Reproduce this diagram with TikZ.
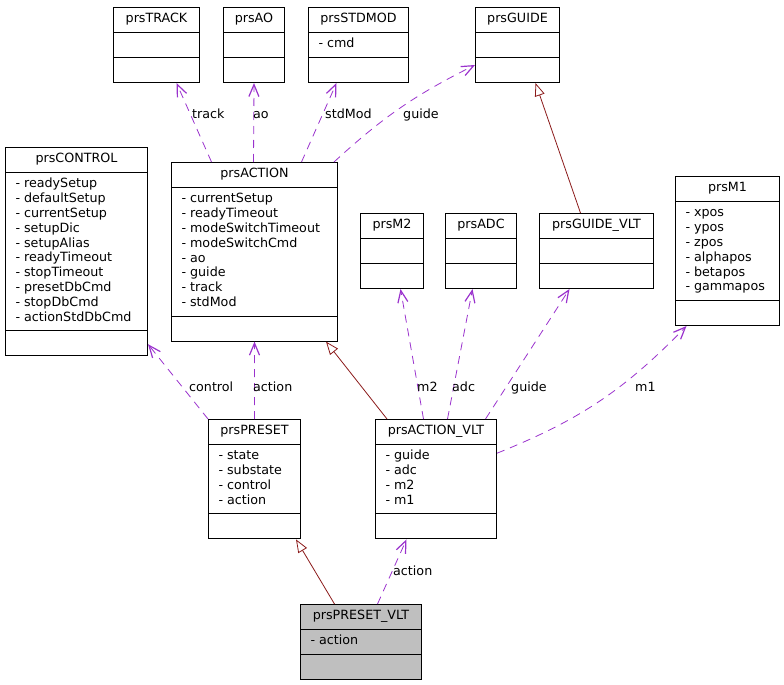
\documentclass[tikz,border=0pt]{standalone}
\usepackage{fontspec}
\setmainfont{DejaVu Sans}
\usetikzlibrary{shapes.multipart,arrows.meta}
\definecolor{useviolet}{RGB}{154,50,205}
\definecolor{isared}{RGB}{139,26,26}
\tikzset{
	cls/.style={draw, line width=1bp, anchor=north west,
		rectangle split, rectangle split parts=3,
		rectangle split part align={center,left,left},
		rectangle split empty part height=10.36bp,
		rectangle split empty part depth=4.44bp,
		align=left, inner xsep=10bp, inner ysep=4.6bp,
		font=\fontsize{12.7bp}{14.8bp}\selectfont},
	uses/.style={useviolet, line width=0.8bp, dash pattern=on 8bp off 6bp,
		-{Straight Barb[length=12bp,width=10bp,line width=1.2bp]}},
	isa/.style={isared, line width=0.8bp,
		-{Triangle[length=13bp,width=10bp,fill=white]}},
	lbl/.style={anchor=base west, inner sep=0pt,
		font=\fontsize{12.7bp}{14.8bp}\selectfont}
}
\begin{document}
\begin{tikzpicture}[x=1bp, y=-1bp]
	\useasboundingbox (0,0) rectangle (784,685);
	
	\node[cls, minimum width=86bp] (track) at (113,7) {\strut prsTRACK\nodepart{second}\strut\nodepart{third}\strut};
	\node[cls, minimum width=61bp] (ao) at (223,7) {\strut prsAO\nodepart{second}\strut\nodepart{third}\strut};
	\node[cls, minimum width=100bp] (stdmod) at (308,7) {\strut prsSTDMOD\nodepart{second}\strut - cmd\strut\nodepart{third}\strut};
	\node[cls, minimum width=84bp] (guide) at (475,7) {\strut prsGUIDE\nodepart{second}\strut\nodepart{third}\strut};
	
	\node[cls, minimum width=142bp] (control) at (5,147) {\strut prsCONTROL\nodepart{second}\strut - readySetup\\ - defaultSetup\\ - currentSetup\\ - setupDic\\ - setupAlias\\ - readyTimeout\\ - stopTimeout\\ - presetDbCmd\\ - stopDbCmd\\ - actionStdDbCmd\strut\nodepart{third}\strut};
	\node[cls, minimum width=166bp] (action) at (171,162) {\strut prsACTION\nodepart{second}\strut - currentSetup\\ - readyTimeout\\ - modeSwitchTimeout\\ - modeSwitchCmd\\ - ao\\ - guide\\ - track\\ - stdMod\strut\nodepart{third}\strut};
	\node[cls, minimum width=63bp] (m2) at (360,213) {\strut prsM2\nodepart{second}\strut\nodepart{third}\strut};
	\node[cls, minimum width=71bp] (adc) at (445,213) {\strut prsADC\nodepart{second}\strut\nodepart{third}\strut};
	\node[cls, minimum width=114bp] (guidevlt) at (539,213) {\strut prsGUIDE\_VLT\nodepart{second}\strut\nodepart{third}\strut};
	\node[cls, minimum width=104bp] (m1) at (675,176) {\strut prsM1\nodepart{second}\strut - xpos\\ - ypos\\ - zpos\\ - alphapos\\ - betapos\\ - gammapos\strut\nodepart{third}\strut};
	
	\node[cls, minimum width=92bp] (preset) at (208,419) {\strut prsPRESET\nodepart{second}\strut - state\\ - substate\\ - control\\ - action\strut\nodepart{third}\strut};
	\node[cls, minimum width=121bp] (actionvlt) at (375,419) {\strut prsACTION\_VLT\nodepart{second}\strut - guide\\ - adc\\ - m2\\ - m1\strut\nodepart{third}\strut};
	\node[cls, minimum width=121bp, fill=gray!50] (presetvlt) at (300,604) {\strut prsPRESET\_VLT\nodepart{second}\strut - action\strut\nodepart{third}\strut};
	
	\path ([xshift=-43bp]action.north) edge[uses] ([xshift=20bp]track.south)
	([xshift=-1bp]action.north) edge[uses] (ao.south)
	([xshift=47bp]action.north) edge[uses] ([xshift=-22bp]stdmod.south)
	([xshift=-4bp]action.north east) edge[uses, bend left=8] ([yshift=-20bp]guide.west)
	(preset.north west) edge[uses] ([yshift=12bp]control.south east)
	(preset.north) edge[uses] (action.south)
	([xshift=-12.5bp]actionvlt.north) edge[uses] ([xshift=8.5bp]m2.south)
	([xshift=11.5bp]actionvlt.north) edge[uses] ([xshift=-8.5bp]adc.south)
	([xshift=49.5bp]actionvlt.north) edge[uses] ([xshift=-27bp]guidevlt.south)
	([yshift=26bp]actionvlt.east) edge[uses, bend right=12] ([xshift=-41bp]m1.south)
	([xshift=16.5bp]presetvlt.north) edge[uses] ([xshift=-29.5bp]actionvlt.south);
	
	\path ([xshift=12bp]actionvlt.north west) edge[isa] ([xshift=-12bp]action.south east)
	([xshift=-16bp]guidevlt.north) edge[isa] ([xshift=18bp]guide.south)
	([xshift=-26.5bp]presetvlt.north) edge[isa] ([xshift=-5bp]preset.south east);
	
	\node[lbl] (ltrack) at (192,119) {track};
	\node[lbl] (lao) at (253,119) {ao};
	\node[lbl] (lstdmod) at (325,119) {stdMod};
	\node[lbl] (lguide) at (403,119) {guide};
	\node[lbl] (lcontrol) at (189,391) {control};
	\node[lbl] (laction) at (253,391) {action};
	\node[lbl] (lm2) at (417,391) {m2};
	\node[lbl] (ladc) at (452,391) {adc};
	\node[lbl] (lguidevlt) at (511,391) {guide};
	\node[lbl] (lm1) at (635,391) {m1};
	\node[lbl] (lactionvlt) at (393,575) {action};
\end{tikzpicture}
\end{document}
